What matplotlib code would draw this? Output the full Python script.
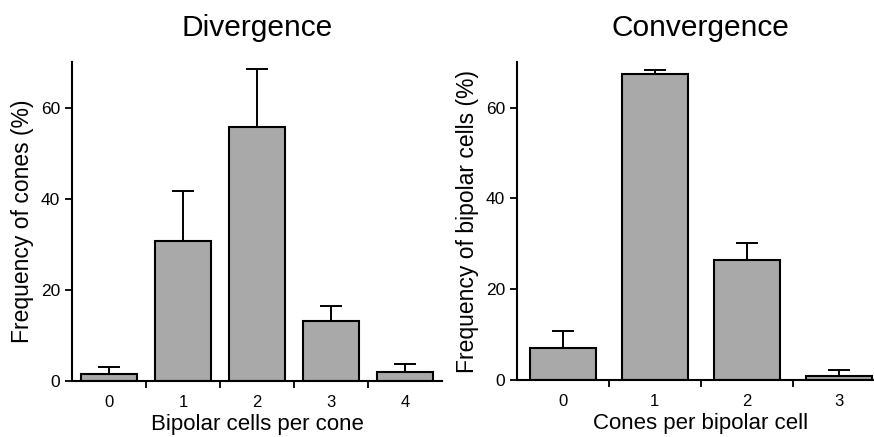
import matplotlib
matplotlib.use("Agg")
import matplotlib.pyplot as plt
import numpy as np

# Divergence: bipolar cells per cone
div_cats = ["0", "1", "2", "3", "4"]
div_vals = [1.4, 30.8, 55.7, 13.1, 1.9]
div_err = [1.5, 11.0, 12.9, 3.4, 1.7]

# Convergence: cones per bipolar cell
con_cats = ["0", "1", "2", "3"]
con_vals = [7.0, 67.4, 26.5, 0.9]
con_err = [3.8, 0.8, 3.7, 1.3]

yticks = [0, 20, 40, 60]

plt.rcParams['font.family'] = ['Liberation Sans', 'DejaVu Sans']

fig = plt.figure(figsize=(8.74, 4.37), dpi=100)
ax1 = fig.add_axes([0.0824, 0.129, 0.4233, 0.728])
ax2 = fig.add_axes([0.5912, 0.130, 0.421, 0.728])

panels = [
    (ax1, div_cats, div_vals, div_err, 0.75, "Divergence",
     "Bipolar cells per cone", "Frequency of cones (%)"),
    (ax2, con_cats, con_vals, con_err, 0.72, "Convergence",
     "Cones per bipolar cell", "Frequency of bipolar cells (%)"),
]

for ax, cats, vals, err, w, title, xlab, ylab in panels:
    x = np.arange(len(cats))
    ax.bar(x, vals, width=w, color="#a9a9a9", edgecolor="black", linewidth=1.5,
           yerr=[np.zeros(len(err)), err],
           error_kw=dict(ecolor="black", elinewidth=1.4, capsize=8, capthick=1.4))
    ax.set_xlim(-0.5, len(cats) - 0.5)
    ax.set_ylim(0, 70)
    ax.set_yticks(yticks)
    ax.set_xticks(x)
    ax.set_xticklabels(cats)
    ax.set_xticks(np.arange(len(cats) - 1) + 0.5, minor=True)
    ax.tick_params(axis="x", which="major", length=0, pad=10, labelsize=12)
    ax.tick_params(axis="x", which="minor", length=5, width=1.3, direction="out")
    ax.tick_params(axis="y", length=5, width=1.3, labelsize=12.5)
    for side in ["top", "right"]:
        ax.spines[side].set_visible(False)
    for side in ["left", "bottom"]:
        ax.spines[side].set_linewidth(1.5)
    ax.set_title(title, fontsize=21.5, pad=19)
    ax.set_xlabel(xlab, fontsize=16, labelpad=3)
    ax.set_ylabel(ylab, fontsize=16.5, labelpad=5)

plt.savefig("out.png", dpi=100)
